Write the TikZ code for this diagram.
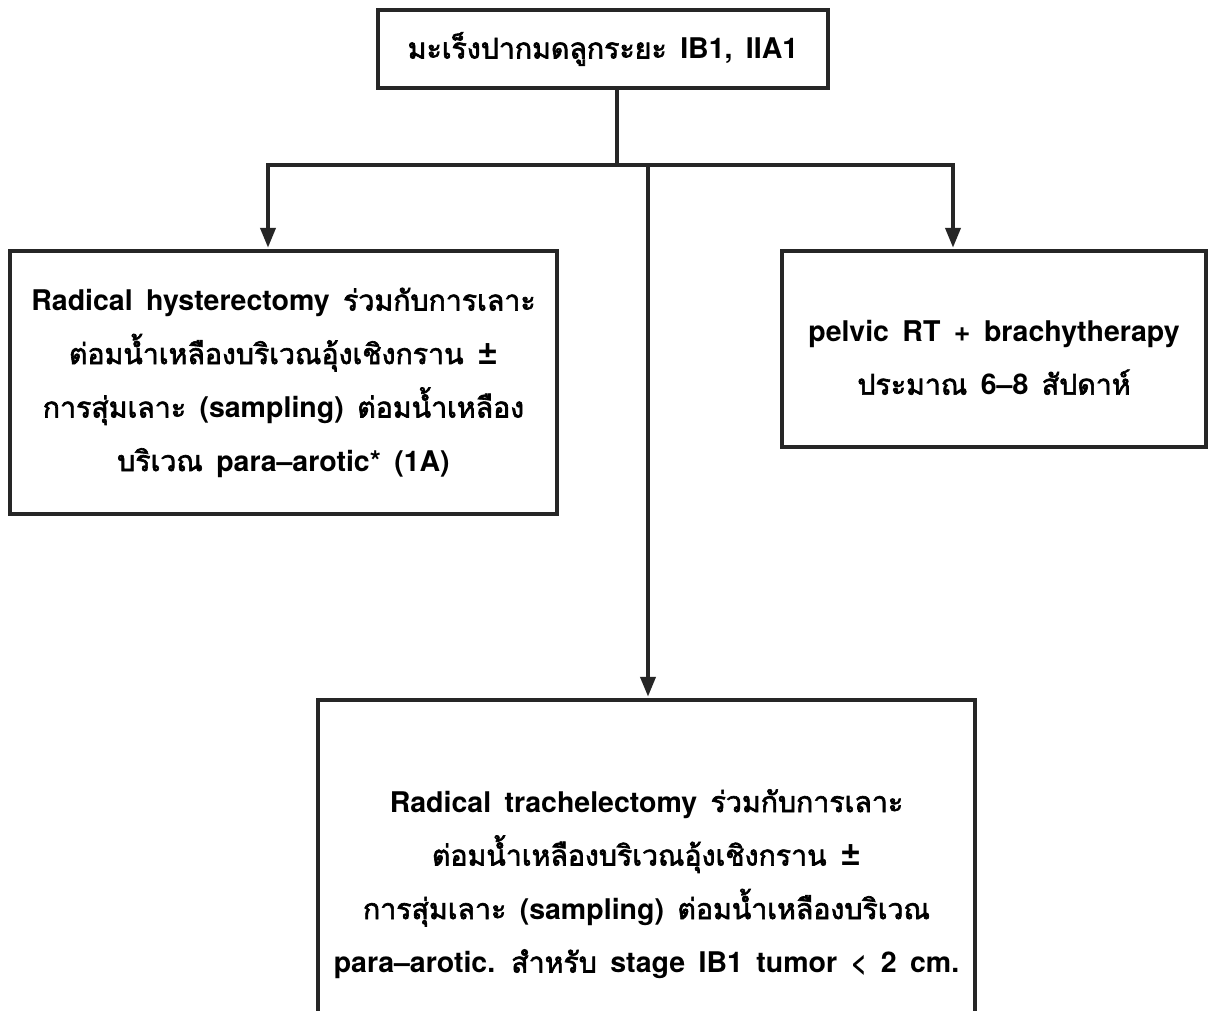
\documentclass[tikz,border=0pt]{standalone}
\usepackage{fontspec}
\setmainfont[WordSpace=1.7]{TeX Gyre Heros}
\newfontfamily\thaifont[Script=Thai, AutoFakeBold=2.2, WordSpace=1.7]{Loma}
\usetikzlibrary{arrows.meta}
\newcommand\thaitext[1]{{\thaifont #1}}
\newcommand\plusminus{{\fontsize{36}{0}\selectfont ±}}
\tikzset{
  box/.style={draw=black!85, line width=4.5pt, fill=white, align=center,
    inner sep=0pt, font=\bfseries\fontsize{28.5}{53.5}\selectfont},
  link/.style={draw=black!85, line width=4pt, line cap=rect},
  arrow/.style={draw=black!85, line width=4pt,
    -{Triangle[width=15pt,length=20pt]}, shorten >=1pt}
}
\begin{document}
\begin{tikzpicture}[x=1pt,y=-1pt]
\clip (0,0) rectangle (1208,1010);
\fill[white] (0,0) rectangle (1208,1010);

\node[box, minimum width=450pt, minimum height=78pt] (top) at (603,49)
  {\thaitext{มะเร็งปากมดลูกระยะ} IB1, IIA1};

\node[box, minimum width=547pt, minimum height=263pt] (left) at (283.5,382.5)
  {Radical hysterectomy \thaitext{ร่วมกับการเลาะ}\\
   \thaitext{ต่อมน้ำเหลืองบริเวณอุ้งเชิงกราน} \plusminus\\
   \thaitext{การสุ่มเลาะ} (sampling) \thaitext{ต่อมน้ำเหลือง}\\
   \thaitext{บริเวณ} para–arotic* (1A)};

\node[box, minimum width=424pt, minimum height=196pt] (right) at (994,349)
  {\rule{0pt}{38pt}pelvic RT + brachytherapy\\
   \thaitext{ประมาณ} 6–8 \thaitext{สัปดาห์}};

\node[box, minimum width=657pt, minimum height=368pt] (bottom) at (646.5,884)
  {Radical trachelectomy \thaitext{ร่วมกับการเลาะ}\\
   \thaitext{ต่อมน้ำเหลืองบริเวณอุ้งเชิงกราน} \plusminus\\
   \thaitext{การสุ่มเลาะ} (sampling) \thaitext{ต่อมน้ำเหลืองบริเวณ}\\
   para–arotic. \thaitext{สำหรับ} stage IB1 tumor < 2 cm.};

% branching points
\coordinate (jt) at (617,165);
\coordinate (hl) at (268,165);
\coordinate (hr) at (953,165);
\coordinate (hm) at (648,165);

\draw[link] (jt |- top.south) -- (jt);
\draw[link] (hl) -- (hr);
\draw[arrow] (hl) -- (hl |- left.north);
\draw[arrow] (hr) -- (hr |- right.north);
\draw[arrow] (hm) -- (hm |- bottom.north);
\end{tikzpicture}
\end{document}
